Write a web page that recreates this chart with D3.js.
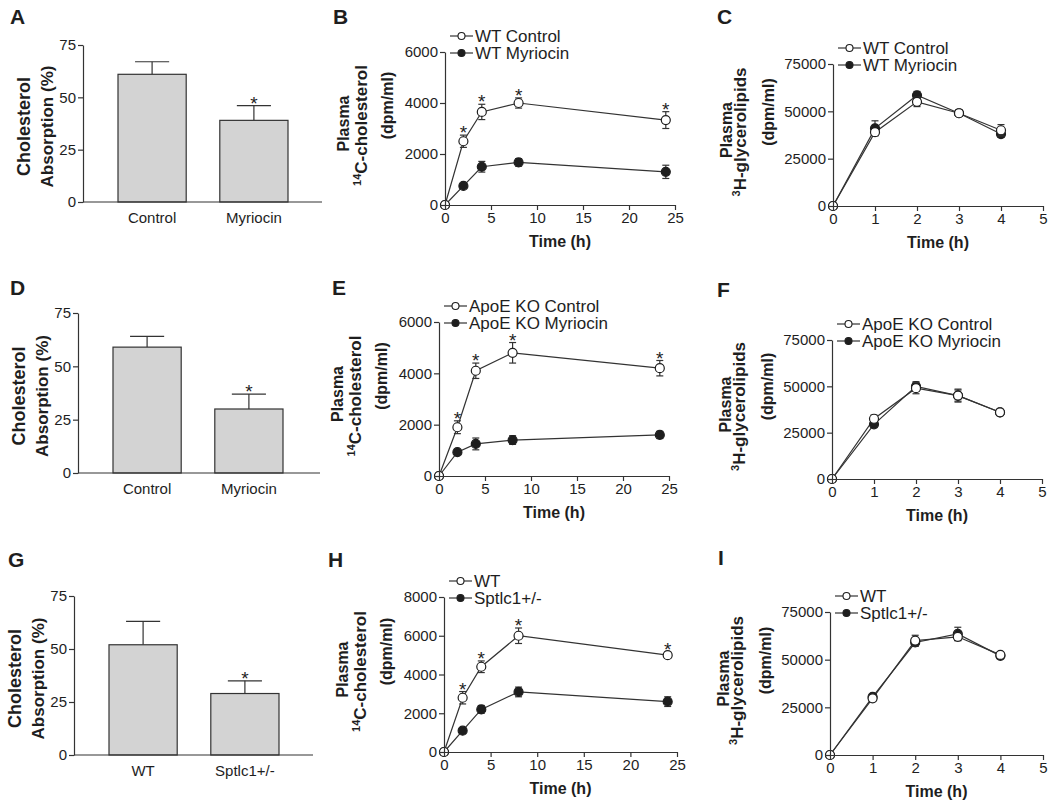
<!DOCTYPE html>
<html>
<head>
<meta charset="utf-8">
<script src="https://cdn.jsdelivr.net/npm/d3@7"></script>
<style>
  body { margin: 0; background: #fff; }
  svg { display: block; font-family: "Liberation Sans", Arial, sans-serif; }
</style>
</head>
<body>
<div id="chart"></div>
<script>
// ---- data ----
const barTicks = [0, 25, 50, 75];

const absorbCatsA = ["Control", "Myriocin"];
const absorbValsA = [61, 39];
const absorbErrsA = [6, 7];
const absorbStarsA = [false, true];

const absorbCatsD = ["Control", "Myriocin"];
const absorbValsD = [59, 30];
const absorbErrsD = [5, 7];
const absorbStarsD = [false, true];

const absorbCatsG = ["WT", "Sptlc1+/-"];
const absorbValsG = [52, 29];
const absorbErrsG = [11, 6];
const absorbStarsG = [false, true];

const cholTime = [0, 2, 4, 8, 24];
const cholTicksX = [0, 5, 10, 15, 20, 25];
const cholTicksY6 = [0, 2000, 4000, 6000];
const cholTicksY8 = [0, 2000, 4000, 6000, 8000];
const cholStars = [false, true, true, true, true];

const wtControlB = [0, 2500, 3650, 4000, 3330];
const wtControlErrB = [0, 240, 300, 200, 330];
const wtMyriocinB = [0, 750, 1500, 1670, 1300];
const wtMyriocinErrB = [0, 70, 210, 150, 260];

const apoeControlE = [0, 1900, 4100, 4800, 4200];
const apoeControlErrE = [0, 250, 300, 400, 300];
const apoeMyriocinE = [0, 930, 1250, 1400, 1600];
const apoeMyriocinErrE = [0, 60, 230, 170, 140];

const wtH = [0, 2800, 4400, 6000, 5000];
const wtErrH = [0, 320, 300, 400, 150];
const sptlcH = [0, 1100, 2200, 3100, 2600];
const sptlcErrH = [0, 150, 200, 250, 250];

const glycTime = [0, 1, 2, 3, 4];
const glycTicksX = [0, 1, 2, 3, 4, 5];
const glycTicksY = [0, 25000, 50000, 75000];

const wtControlC = [0, 39000, 55000, 49000, 40000];
const wtControlErrC = [0, 1500, 2500, 1500, 3000];
const wtMyriocinC = [0, 41000, 58500, 49000, 38000];
const wtMyriocinErrC = [0, 4000, 2000, 1500, 1500];

const apoeControlF = [0, 32500, 49000, 45000, 36000];
const apoeControlErrF = [0, 2000, 3000, 3500, 1000];
const apoeMyriocinF = [0, 29500, 50000, 45000, 36000];
const apoeMyriocinErrF = [0, 1000, 2500, 3000, 800];

const wtI = [0, 29700, 60000, 62000, 52500];
const wtErrI = [0, 1500, 2800, 2000, 1000];
const sptlcI = [0, 30500, 59000, 63500, 52000];
const sptlcErrI = [0, 1200, 2000, 3500, 800];

// ---- drawing ----
const ink = "#1e1e1e";
const lineInk = "#333";
const plain = d3.format("d");

const svg = d3.select("#chart")
  .append("svg")
  .attr("width", 1050)
  .attr("height", 801)
  .style("background-color", "#fff");

function panelLetter(letter, x, y) {
  svg.append("text")
    .attr("x", x).attr("y", y)
    .attr("font-size", 21).attr("font-weight", "bold")
    .attr("fill", ink)
    .text(letter);
}

function styleAxis(g) {
  g.attr("font-family", null).attr("font-size", 15);
  g.selectAll("path, line").attr("stroke", lineInk).attr("stroke-width", 1.2);
  g.selectAll("text").attr("fill", ink);
}

function rotLabel(g, cx, cy, parts, size) {
  const t = g.append("text")
    .attr("transform", `translate(${cx},${cy}) rotate(-90)`)
    .attr("text-anchor", "middle")
    .attr("dy", "0.35em")
    .attr("font-size", size).attr("font-weight", "bold")
    .attr("fill", ink);
  parts.forEach(pt => {
    const s = t.append("tspan").text(pt.text);
    if (pt.sup) s.attr("font-size", size * 0.65).attr("dy", -6);
    if (pt.after) s.attr("dy", 6);
  });
}

function drawBars(p) {
  const g = svg.append("g");
  const y = d3.scaleLinear().domain([0, 75]).range([p.yBot, p.yTop]);
  const x = d3.scaleBand().domain(p.cats)
    .range([p.x0 + 35, p.x0 + 205]).paddingInner(0.33).paddingOuter(0);
  const bw = x.bandwidth();

  // error bars (upper only)
  p.vals.forEach((v, i) => {
    const cx = x(p.cats[i]) + bw / 2;
    g.append("line").attr("x1", cx).attr("x2", cx)
      .attr("y1", y(v)).attr("y2", y(v + p.errs[i]))
      .attr("stroke", lineInk).attr("stroke-width", 1.2);
    g.append("line").attr("x1", cx - bw / 4).attr("x2", cx + bw / 4)
      .attr("y1", y(v + p.errs[i])).attr("y2", y(v + p.errs[i]))
      .attr("stroke", lineInk).attr("stroke-width", 1.2);
    if (p.stars[i]) {
      g.append("text").attr("x", cx).attr("y", y(v + p.errs[i]) + 4)
        .attr("text-anchor", "middle").attr("font-size", 19).attr("fill", ink).text("*");
    }
  });

  g.selectAll("rect").data(p.vals).join("rect")
    .attr("x", (d, i) => x(p.cats[i]))
    .attr("y", d => y(d))
    .attr("width", bw)
    .attr("height", d => p.yBot - y(d))
    .attr("fill", "#d3d3d3")
    .attr("stroke", lineInk).attr("stroke-width", 1.2);

  g.append("g").attr("transform", `translate(${p.x0},0)`)
    .call(d3.axisLeft(y).tickValues(barTicks).tickFormat(plain).tickSize(5).tickPadding(2).tickSizeOuter(0))
    .call(styleAxis);

  g.append("line").attr("x1", p.x0).attr("x2", p.x1)
    .attr("y1", p.yBot).attr("y2", p.yBot)
    .attr("stroke", lineInk).attr("stroke-width", 1.2);
  g.append("g").attr("transform", `translate(0,${p.yBot})`)
    .call(d3.axisBottom(x).tickSize(0).tickPadding(10))
    .call(styleAxis)
    .call(a => a.select(".domain").remove());

  const cy = (p.yTop + p.yBot) / 2 + 3;
  rotLabel(g, p.x0 - 59, cy, [{text: "Cholesterol"}], 18);
  rotLabel(g, p.x0 - 36, cy, [{text: "Absorption (%)"}], 17);

  panelLetter(p.letter, p.lx, p.ly);
}

function drawLines(p) {
  const g = svg.append("g");
  const x = d3.scaleLinear().domain([0, d3.max(p.ticksX)]).range([p.x0, p.x1]);
  const y = d3.scaleLinear().domain([0, d3.max(p.ticksY)]).range([p.yBot, p.yTop]);
  const series = [
    {vals: p.filled, errs: p.filledErr, fill: ink, name: p.names[1]},
    {vals: p.open, errs: p.openErr, fill: "#fff", name: p.names[0]}
  ];
  const line = d3.line().x((d, i) => x(p.time[i])).y(d => y(d));

  series.forEach(s => {
    g.append("path").datum(s.vals)
      .attr("fill", "none").attr("stroke", lineInk).attr("stroke-width", 1.2)
      .attr("d", line);
  });

  series.forEach(s => {
    s.vals.forEach((v, i) => {
      const e = s.errs[i];
      if (!e) return;
      const cx = x(p.time[i]);
      g.append("line").attr("x1", cx).attr("x2", cx)
        .attr("y1", y(v - e)).attr("y2", y(v + e))
        .attr("stroke", lineInk).attr("stroke-width", 1.2);
      [v - e, v + e].forEach(yy => {
        g.append("line").attr("x1", cx - 3.5).attr("x2", cx + 3.5)
          .attr("y1", y(yy)).attr("y2", y(yy))
          .attr("stroke", lineInk).attr("stroke-width", 1.2);
      });
    });
    g.selectAll(null).data(s.vals).join("circle")
      .attr("cx", (d, i) => x(p.time[i]))
      .attr("cy", d => y(d))
      .attr("r", 4.5)
      .attr("fill", s.fill)
      .attr("stroke", ink).attr("stroke-width", 1.2);
  });

  if (p.stars) {
    p.open.forEach((v, i) => {
      if (!p.stars[i]) return;
      g.append("text").attr("x", x(p.time[i])).attr("y", y(v + p.openErr[i]) + 4)
        .attr("text-anchor", "middle").attr("font-size", 19).attr("fill", ink).text("*");
    });
  }

  g.append("g").attr("transform", `translate(${p.x0},0)`)
    .call(d3.axisLeft(y).tickValues(p.ticksY).tickFormat(plain).tickSize(5).tickPadding(2).tickSizeOuter(0))
    .call(styleAxis);
  g.append("g").attr("transform", `translate(0,${p.yBot})`)
    .call(d3.axisBottom(x).tickValues(p.ticksX).tickFormat(plain).tickSize(5).tickPadding(2).tickSizeOuter(0))
    .call(styleAxis);

  g.append("text")
    .attr("x", (p.x0 + p.x1) / 2).attr("y", p.yBot + 42)
    .attr("text-anchor", "middle").attr("font-size", 16).attr("font-weight", "bold")
    .attr("fill", ink).text("Time (h)");

  // legend
  [series[1], series[0]].forEach((s, k) => {
    const ly = p.yTop + (k === 0 ? -16 : 1);
    const lx = p.x0 + 5;
    g.append("line").attr("x1", lx).attr("x2", lx + 23).attr("y1", ly).attr("y2", ly)
      .attr("stroke", lineInk).attr("stroke-width", 1.2);
    g.append("circle").attr("cx", lx + 11.5).attr("cy", ly).attr("r", 3.5)
      .attr("fill", s.fill).attr("stroke", ink).attr("stroke-width", 1.1);
    g.append("text").attr("x", lx + 25).attr("y", ly).attr("dy", "0.36em")
      .attr("font-size", 17).attr("fill", ink).text(s.name);
  });

  const cy = (p.yTop + p.yBot) / 2;
  rotLabel(g, p.x0 + p.lab[0], cy - 5, [{text: "Plasma"}], 16);
  rotLabel(g, p.x0 + p.lab[1], cy - 3, [{text: p.iso, sup: true}, {text: p.what, after: true}], 17);
  rotLabel(g, p.x0 + p.lab[2], cy - 23, [{text: "(dpm/ml)"}], 16);

  panelLetter(p.letter, p.lx, p.ly);
}

drawBars({letter: "A", lx: 10, ly: 24, x0: 83, x1: 322, yTop: 45, yBot: 202,
  cats: absorbCatsA, vals: absorbValsA, errs: absorbErrsA, stars: absorbStarsA});
drawBars({letter: "D", lx: 10, ly: 295, x0: 78, x1: 320, yTop: 313, yBot: 473,
  cats: absorbCatsD, vals: absorbValsD, errs: absorbErrsD, stars: absorbStarsD});
drawBars({letter: "G", lx: 8, ly: 567, x0: 74, x1: 313, yTop: 596, yBot: 755,
  cats: absorbCatsG, vals: absorbValsG, errs: absorbErrsG, stars: absorbStarsG});

const cholLab = [-102, -78, -58];
const glycLab = [-107, -87, -65];

drawLines({letter: "B", lx: 333, ly: 24, x0: 445, x1: 675, yTop: 52, yBot: 205,
  time: cholTime, ticksX: cholTicksX, ticksY: cholTicksY6, stars: cholStars,
  open: wtControlB, openErr: wtControlErrB, filled: wtMyriocinB, filledErr: wtMyriocinErrB,
  names: ["WT Control", "WT Myriocin"], iso: "14", what: "C-cholesterol", lab: cholLab});
drawLines({letter: "C", lx: 717, ly: 24, x0: 833, x1: 1043, yTop: 64, yBot: 206,
  time: glycTime, ticksX: glycTicksX, ticksY: glycTicksY,
  open: wtControlC, openErr: wtControlErrC, filled: wtMyriocinC, filledErr: wtMyriocinErrC,
  names: ["WT Control", "WT Myriocin"], iso: "3", what: "H-glycerolipids", lab: glycLab});

drawLines({letter: "E", lx: 332, ly: 295, x0: 439, x1: 669, yTop: 322, yBot: 476,
  time: cholTime, ticksX: cholTicksX, ticksY: cholTicksY6, stars: cholStars,
  open: apoeControlE, openErr: apoeControlErrE, filled: apoeMyriocinE, filledErr: apoeMyriocinErrE,
  names: ["ApoE KO Control", "ApoE KO Myriocin"], iso: "14", what: "C-cholesterol", lab: cholLab});
drawLines({letter: "F", lx: 717, ly: 297, x0: 832, x1: 1042, yTop: 340, yBot: 479,
  time: glycTime, ticksX: glycTicksX, ticksY: glycTicksY,
  open: apoeControlF, openErr: apoeControlErrF, filled: apoeMyriocinF, filledErr: apoeMyriocinErrF,
  names: ["ApoE KO Control", "ApoE KO Myriocin"], iso: "3", what: "H-glycerolipids", lab: glycLab});

drawLines({letter: "H", lx: 328, ly: 567, x0: 444, x1: 677, yTop: 597, yBot: 752,
  time: cholTime, ticksX: cholTicksX, ticksY: cholTicksY8, stars: cholStars,
  open: wtH, openErr: wtErrH, filled: sptlcH, filledErr: sptlcErrH,
  names: ["WT", "Sptlc1+/-"], iso: "14", what: "C-cholesterol", lab: cholLab});
drawLines({letter: "I", lx: 718, ly: 565, x0: 830, x1: 1043, yTop: 612, yBot: 755,
  time: glycTime, ticksX: glycTicksX, ticksY: glycTicksY,
  open: wtI, openErr: wtErrI, filled: sptlcI, filledErr: sptlcErrI,
  names: ["WT", "Sptlc1+/-"], iso: "3", what: "H-glycerolipids", lab: glycLab});
</script>
</body>
</html>
